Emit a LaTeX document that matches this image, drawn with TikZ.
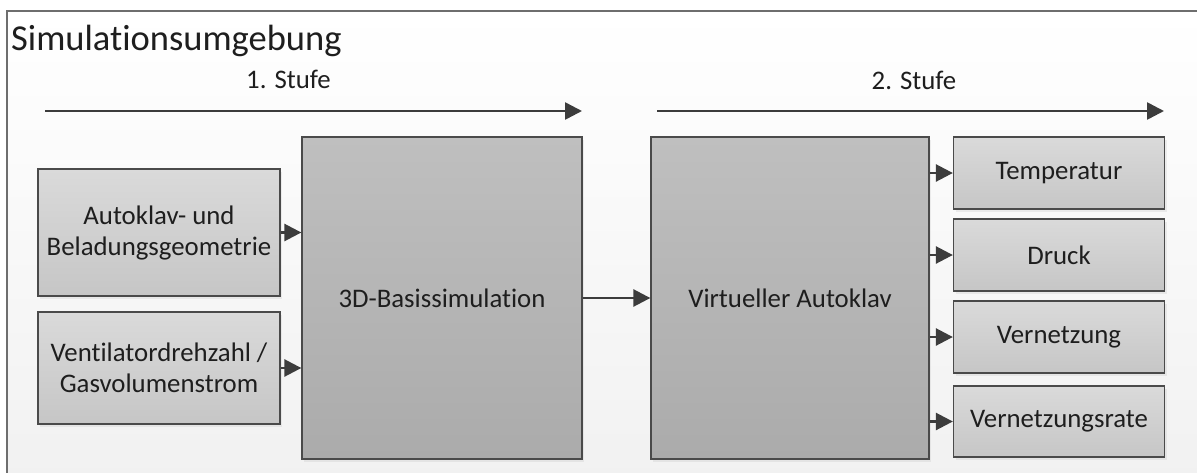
\documentclass[tikz,border=0pt]{standalone}
\usepackage{fontspec}
\setmainfont{Carlito}[Ligatures=CommonOff]
\usetikzlibrary{arrows.meta,shadows}
\definecolor{rahmen}{HTML}{6E6E6E}
\definecolor{kante}{HTML}{4A4A4A}
\definecolor{pfeilgrau}{HTML}{3C3C3C}
\definecolor{schrift}{HTML}{1E1E1E}
\definecolor{hellgrau}{HTML}{DADADA}
\definecolor{mittelgrau}{HTML}{C6C6C6}
\definecolor{dunkelgrau}{HTML}{BFBFBF}
\definecolor{tiefgrau}{HTML}{ABABAB}
\begin{document}
\begin{tikzpicture}[x=1pt,y=-1pt,
 kasten/.style={draw=kante, line width=1.3pt, top color=hellgrau, bottom color=mittelgrau,
  drop shadow={opacity=0.12, shadow xshift=2pt, shadow yshift=-3pt},
  align=center, inner sep=0pt, text=schrift, font=\fontsize{26.8}{31}\selectfont},
 block/.style={kasten, top color=dunkelgrau, bottom color=tiefgrau},
 pfeil/.style={-{Triangle[length=17pt,width=17pt]}, line width=2.6pt, draw=pfeilgrau},
 stufe/.style={text=schrift, inner sep=0pt, anchor=base, font=\fontsize{26.8}{31}\selectfont}]
 \path[use as bounding box, clip] (0,0) rectangle (1197,472);
 \fill[white] (0,0) rectangle (1197,472);
 \draw[rahmen, line width=1.5pt, top color=white, bottom color=gray!11] (7,11) rectangle (1210,485);
 \node[anchor=base west, inner sep=0pt, text=schrift, font=\fontsize{36.5}{40}\selectfont] (titel) at (11,50) {Simulationsumgebung};
 %
 \node[stufe] (stufe1) at (288.5,88) {1. Stufe};
 \node[stufe] (stufe2) at (914,89) {2. Stufe};
 \coordinate (s1a) at (45,111);
 \coordinate (s1b) at (582,111);
 \coordinate (s2a) at (657,111);
 \coordinate (s2b) at (1164,111);
 \draw[pfeil] (s1a) -- (s1b);
 \draw[pfeil] (s2a) -- (s2b);
 %
 \node[kasten, minimum width=242pt, minimum height=127pt] (geometrie) at (159,232.5) {Autoklav- und\\Beladungsgeometrie};
 \node[kasten, minimum width=242pt, minimum height=112pt] (drehzahl) at (159,368) {Ventilatordrehzahl /\\Gasvolumenstrom};
 \node[block, minimum width=280pt, minimum height=322pt] (basis) at (442,298) {3D-Basissimulation};
 \node[block, minimum width=278pt, minimum height=322pt] (virtuell) at (790,298) {Virtueller Autoklav};
 %
 \node[kasten, minimum width=211pt, minimum height=72pt] (temp) at (1059,173) {Temperatur};
 \node[kasten, minimum width=211pt, minimum height=72pt] (druck) at (1059,255) {Druck};
 \node[kasten, minimum width=211pt, minimum height=72pt] (vernetzung) at (1059,337) {Vernetzung};
 \node[kasten, minimum width=211pt, minimum height=71pt] (rate) at (1059,421.5) {Vernetzungsrate};
 %
 \draw[pfeil] (geometrie.east) -- (geometrie.east -| basis.west);
 \draw[pfeil] (drehzahl.east) -- (drehzahl.east -| basis.west);
 \draw[pfeil] (basis.east) -- (virtuell.west);
 %
 \draw[pfeil] (temp.west -| virtuell.east) -- (temp.west);
 \draw[pfeil] (druck.west -| virtuell.east) -- (druck.west);
 \draw[pfeil] (vernetzung.west -| virtuell.east) -- (vernetzung.west);
 \draw[pfeil] (rate.west -| virtuell.east) -- (rate.west);
\end{tikzpicture}
\end{document}
